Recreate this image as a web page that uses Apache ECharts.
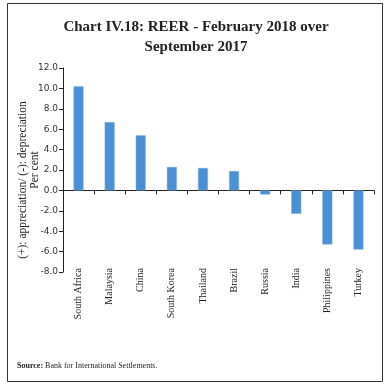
<!DOCTYPE html>
<html><head><meta charset="utf-8">
<script src="https://cdn.jsdelivr.net/npm/echarts@6/dist/echarts.min.js"></script>
<style>html,body{margin:0;padding:0;background:#fff}#c{width:392px;height:388px}</style>
</head><body><div id="c"></div>
<script>
var categories = ['South Africa','Malaysia','China','South Korea','Thailand','Brazil','Russia','India','Philippines','Turkey'];
var values = [10.2, 6.7, 5.4, 2.3, 2.2, 1.9, -0.4, -2.3, -5.3, -5.8];
var yMin = -8, yMax = 12, yStep = 2;

var chart = echarts.init(document.getElementById('c'), null, {renderer:'canvas'});
chart.setOption({
  animation:false,
  backgroundColor:'#fff',
  title:{
    text:'Chart IV.18: REER - February 2018 over\nSeptember 2017',
    left:'center', top:12,
    textStyle:{fontFamily:'Liberation Serif', fontWeight:'bold', fontSize:15, color:'#222', lineHeight:20}
  },
  graphic:[
    {type:'rect', shape:{x:7.5,y:3.5,width:375,height:378}, style:{fill:null, stroke:'#333', lineWidth:1}, z:-1},
    {type:'text', left:17, top:362, style:{
      text:'{b|Source:} {n|Bank for International Settlements.}',
      rich:{b:{fontWeight:'bold', fontSize:8, fontFamily:'Liberation Serif', fill:'#222'}, n:{fontSize:8, fontFamily:'Liberation Serif', fill:'#222'}},
      fontSize:8, fontFamily:'Liberation Serif', fill:'#222'}}
  ],
  grid:{left:63, top:68, right:18, bottom:116, containLabel:false, outerBoundsMode:'none'},
  xAxis:{
    type:'category', data:categories,
    axisLine:{onZero:true, lineStyle:{color:'#222', width:1}},
    axisTick:{show:true, length:4, lineStyle:{color:'#222'}},
    axisLabel:{rotate:90, margin:-4, interval:0, fontFamily:'Liberation Serif', fontSize:10, color:'#222'}
  },
  yAxis:{
    type:'value', min:yMin, max:yMax, interval:yStep,
    name:'(+): appreciation/ (-): depreciation\u00a0\u00a0\u00a0\u00a0\u00a0\u00a0\u00a0\nPer cent',
    nameLocation:'middle', nameGap:22, nameRotate:90, nameMoveOverlap:false,
    nameTextStyle:{fontFamily:'Liberation Serif', fontSize:11.5, color:'#222', lineHeight:12},
    axisLine:{show:true, lineStyle:{color:'#222'}},
    axisTick:{show:true, length:4, lineStyle:{color:'#222'}},
    splitLine:{show:false},
    axisLabel:{formatter:function(v){return v.toFixed(1);}, fontFamily:'DejaVu Sans', fontSize:9, color:'#333', margin:5}
  },
  series:[{
    type:'bar', data:values, barWidth:10,
    itemStyle:{color:'#4a90d4', borderColor:'#7fb3e3', borderWidth:0.5}
  }]
});
</script></body></html>
